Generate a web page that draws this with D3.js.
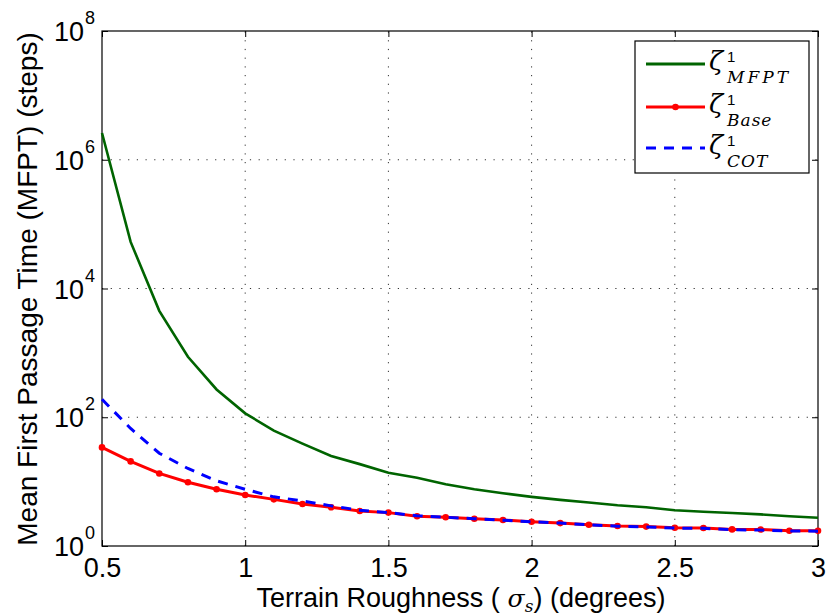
<!DOCTYPE html>
<html>
<head>
<meta charset="utf-8">
<script src="https://cdn.jsdelivr.net/npm/d3@7"></script>
<style>
  body { margin: 0; background: #fff; }
  svg { display: block; }
  text { font-family: "Liberation Sans", Arial, sans-serif; fill: #000; }
  .math { font-family: "DejaVu Serif", "Liberation Serif", serif; font-style: italic; }
</style>
</head>
<body>
<script>
var sigma = [0.5, 0.6, 0.7, 0.8, 0.9, 1.0, 1.1, 1.2, 1.3, 1.4, 1.5, 1.6, 1.7,
             1.8, 1.9, 2.0, 2.1, 2.2, 2.3, 2.4, 2.5, 2.6, 2.7, 2.8, 2.9, 3.0];
var mfpt = [2.6e6, 5.3e4, 4.5e3, 870, 270, 115, 62, 39, 25, 18.7, 13.7, 11.5, 9.1,
            7.6, 6.6, 5.8, 5.2, 4.75, 4.3, 4.0, 3.6, 3.4, 3.25, 3.1, 2.9, 2.75];
var base = [34, 20.6, 13.4, 9.8, 7.6, 6.2, 5.3, 4.5, 4.0, 3.5, 3.3, 2.9, 2.8,
            2.65, 2.53, 2.38, 2.27, 2.14, 2.04, 2.0, 1.92, 1.9, 1.81, 1.8, 1.73, 1.72];
var cot = [190, 67, 27.6, 16, 10.3, 7.6, 5.8, 5.0, 4.2, 3.6, 3.3, 2.95, 2.8,
           2.65, 2.52, 2.38, 2.27, 2.13, 2.03, 1.98, 1.9, 1.88, 1.79, 1.77, 1.71, 1.7];
var xTicks = [0.5, 1, 1.5, 2, 2.5, 3];
var yTicks = [1, 1e2, 1e4, 1e6, 1e8];

var WIDTH = 827, HEIGHT = 616;
var LEFT = 102, RIGHT = 818, TOP = 31, BOTTOM = 546;

var translate = function (x, y) {
  return "translate(" + x + "," + y + ")";
};

var xScale = d3.scaleLinear().domain([0.5, 3]).range([LEFT, RIGHT]);
var yScale = d3.scaleLog().domain([1, 1e8]).range([BOTTOM, TOP]);

var svg = d3.select("body").append("svg")
  .attr("width", WIDTH)
  .attr("height", HEIGHT);

// dotted grid
var grid = svg.append("g")
  .attr("stroke", "#333")
  .attr("stroke-width", 1)
  .attr("stroke-dasharray", "1.2,7.5");
grid.selectAll("line.vx")
  .data(xTicks.slice(1, -1))
  .enter().append("line")
  .attr("x1", function (d) { return xScale(d); })
  .attr("x2", function (d) { return xScale(d); })
  .attr("y1", BOTTOM).attr("y2", TOP);
grid.selectAll("line.hy")
  .data(yTicks.slice(1, -1))
  .enter().append("line")
  .attr("x1", LEFT).attr("x2", RIGHT)
  .attr("y1", function (d) { return yScale(d); })
  .attr("y2", function (d) { return yScale(d); });

// axes with inward ticks on all sides
var xAxis = d3.axisBottom(xScale).tickValues(xTicks).tickSize(-6).tickPadding(12)
  .tickFormat(d3.format("")).tickSizeOuter(0);
var xAxisTop = d3.axisTop(xScale).tickValues(xTicks).tickSize(-6).tickFormat("").tickSizeOuter(0);
var yAxis = d3.axisLeft(yScale).tickValues(yTicks).tickSize(-6).tickFormat("").tickSizeOuter(0);
var yAxisRight = d3.axisRight(yScale).tickValues(yTicks).tickSize(-6).tickFormat("").tickSizeOuter(0);

var gx = svg.append("g").attr("transform", translate(0, BOTTOM)).call(xAxis);
gx.selectAll("text").attr("font-size", 27).attr("dy", "0.71em")
  .attr("font-family", "Liberation Sans, Arial, sans-serif");
svg.append("g").attr("transform", translate(0, TOP)).call(xAxisTop);
svg.append("g").attr("transform", translate(LEFT, 0)).call(yAxis);
svg.append("g").attr("transform", translate(RIGHT, 0)).call(yAxisRight);
svg.selectAll(".domain").remove();
svg.selectAll(".tick line").attr("stroke", "#000");

svg.append("rect")
  .attr("x", LEFT).attr("y", TOP)
  .attr("width", RIGHT - LEFT).attr("height", BOTTOM - TOP)
  .attr("fill", "none").attr("stroke", "#000").attr("stroke-width", 1.2);

// y tick labels 10^n
var yl = svg.append("g").selectAll("g")
  .data(yTicks)
  .enter().append("g")
  .attr("transform", function (d) { return translate(0, yScale(d)); });
yl.append("text")
  .attr("x", 84).attr("y", 10)
  .attr("text-anchor", "end")
  .attr("font-size", 27)
  .text("10");
yl.append("text")
  .attr("x", 85).attr("y", -7)
  .attr("font-size", 18)
  .text(function (d) { return Math.round(Math.log10(d)); });

// series
var line = d3.line()
  .x(function (d, i) { return xScale(sigma[i]); })
  .y(function (d) { return yScale(d); });

svg.append("path")
  .attr("d", line(mfpt))
  .attr("fill", "none").attr("stroke", "#006400").attr("stroke-width", 2.6);

svg.append("path")
  .attr("d", line(base))
  .attr("fill", "none").attr("stroke", "#ff0000").attr("stroke-width", 3);

svg.append("g").selectAll("circle")
  .data(base)
  .enter().append("circle")
  .attr("cx", function (d, i) { return xScale(sigma[i]); })
  .attr("cy", function (d) { return yScale(d); })
  .attr("r", 3.3)
  .attr("fill", "#ff0000");

svg.append("path")
  .attr("d", line(cot))
  .attr("fill", "none").attr("stroke", "#0000ff").attr("stroke-width", 3)
  .attr("stroke-dasharray", "10,8");

// legend
var legend = svg.append("g");
legend.append("rect")
  .attr("x", 635).attr("y", 41).attr("width", 174).attr("height", 132)
  .attr("fill", "#fff").attr("stroke", "#000").attr("stroke-width", 1.2);

var legendItems = [
  {sub: "MFPT", color: "#006400", dash: null, marker: false, y: 64},
  {sub: "Base", color: "#ff0000", dash: null, marker: true, y: 107},
  {sub: "COT", color: "#0000ff", dash: "10,8", marker: false, y: 148}
];
legendItems.forEach(function (it) {
  legend.append("line")
    .attr("x1", 646).attr("x2", 705)
    .attr("y1", it.y).attr("y2", it.y)
    .attr("stroke", it.color).attr("stroke-width", it.marker ? 3 : 2.8)
    .attr("stroke-dasharray", it.dash);
  if (it.marker) {
    legend.append("circle").attr("cx", 675.5).attr("cy", it.y).attr("r", 3.3).attr("fill", it.color);
  }
  legend.append("text").attr("class", "math")
    .attr("x", 709).attr("y", it.y + 6)
    .attr("font-size", 26).text("ζ");
  legend.append("text")
    .attr("x", 727).attr("y", it.y - 2)
    .attr("font-family", "DejaVu Serif, serif")
    .attr("font-size", 15).text("1");
  legend.append("text").attr("class", "math")
    .attr("x", 727).attr("y", it.y + 19)
    .attr("font-size", 17)
    .attr("letter-spacing", it.sub === "MFPT" ? 3 : 1)
    .text(it.sub);
});

// axis titles
var xt = svg.append("text")
  .attr("x", 461).attr("y", 607)
  .attr("text-anchor", "middle")
  .attr("font-size", 27);
xt.append("tspan").text("Terrain Roughness (");
xt.append("tspan").attr("class", "math").attr("font-size", 25).text(" σ");
xt.append("tspan").attr("class", "math").attr("font-size", 17).attr("dy", 5).text("s");
xt.append("tspan").attr("dy", -5).text(") (degrees)");

svg.append("text")
  .attr("transform", "translate(37,289) rotate(-90)")
  .attr("text-anchor", "middle")
  .attr("font-size", 28)
  .text("Mean First Passage Time (MFPT) (steps)");
</script>
</body>
</html>
